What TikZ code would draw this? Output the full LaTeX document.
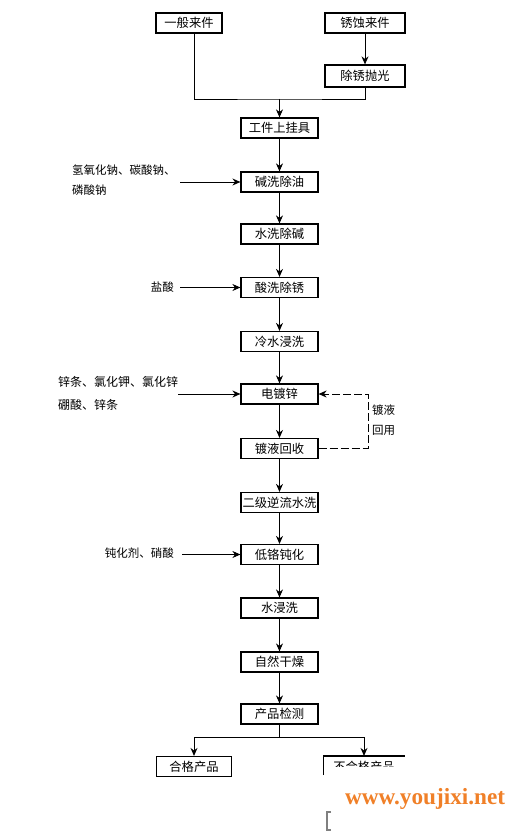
\documentclass[tikz,border=0pt]{standalone}
\usepackage{fontspec}
\newfontfamily\cjk{Noto Sans CJK SC}
\newfontfamily\wmfont{Liberation Serif}
\usetikzlibrary{arrows.meta}
\definecolor{wmorange}{RGB}{240,128,40}
\begin{document}
\begin{tikzpicture}[x=1pt,y=-1pt,
  box/.style={draw, line width=1.2pt, minimum width=77pt, minimum height=20pt, inner sep=0pt, font=\cjk\fontsize{12.3}{12}\selectfont},
  arr/.style={-{Stealth[length=8pt,width=7pt]}, line width=0.9pt},
  plain/.style={line width=0.9pt},
  lab/.style={font=\cjk\fontsize{11.5}{20}\selectfont, align=left, inner sep=0pt},
  dashline/.style={dash pattern=on 8pt off 3pt}]
\useasboundingbox (0,0) rectangle (525,837);
% top
\node[box, minimum width=66pt] (t1) at (189,23) {一般来件};
\node[box, minimum width=80pt] (t2) at (365,23) {锈蚀来件};
\node[box, minimum width=80pt, minimum height=22pt] (t3) at (365,76) {除锈抛光};
\coordinate (m) at (279.5,99);
\draw[arr] (t2) -- (t3);
\draw[plain] ([xshift=5pt]t1.south) |- (m) -| (t3.south);
% main column
\node[box] (b1) at (279.5,128) {工件上挂具};
\node[box] (b2) at (279.5,182) {碱洗除油};
\node[box] (b3) at (279.5,234) {水洗除碱};
\node[box] (b4) at (279.5,287.5) {酸洗除锈};
\node[box] (b5) at (279.5,341.5) {冷水浸洗};
\node[box] (b6) at (279.5,394) {电镀锌};
\node[box] (b7) at (279.5,448.5) {镀液回收};
\node[box] (b8) at (279.5,502.5) {二级逆流水洗};
\node[box] (b9) at (279.5,554.5) {低铬钝化};
\node[box] (b10) at (279.5,608) {水浸洗};
\node[box] (b11) at (279.5,662) {自然干燥};
\node[box] (b12) at (279.5,714) {产品检测};
\draw[arr] (m) -- (b1);
\foreach \a/\b in {b1/b2,b2/b3,b3/b4,b4/b5,b5/b6,b6/b7,b7/b8,b8/b9,b9/b10,b10/b11,b11/b12}
  \draw[arr] (\a) -- (\b);
% inputs
\node[lab, anchor=west] (l1) at (72,180) {氢氧化钠、碳酸钠、\\磷酸钠};
\node[lab, anchor=east] (l2) at (174,287.5) {盐酸};
\node[lab, anchor=west, font=\cjk\fontsize{12}{23}\selectfont] (l3) at (58,393.5) {锌条、氯化钾、氯化锌\\硼酸、锌条};
\node[lab, anchor=east] (l4) at (174,553.5) {钝化剂、硝酸};
\coordinate (i1) at (180,182);
\coordinate (i2) at (180,287.5);
\coordinate (i3) at (178,394);
\coordinate (i4) at (182,554.5);
\draw[arr] (i1) -- (b2.west);
\draw[arr] (i2) -- (b4.west);
\draw[arr] (i3) -- (b6.west);
\draw[arr] (i4) -- (b9.west);
% recycle
\coordinate (dr) at (368,420);
\draw[arr, dashline] (b7.east) -- (b7.east -| dr) -- (b6.east -| dr) -- (b6.east);
\node[lab, anchor=west, font=\cjk\fontsize{11.5}{20}\selectfont] (l5) at (372,420) {镀液\\回用};
% bottom
\coordinate (s) at (279.5,737);
\draw[plain] (b12) -- (s);
\node[box, minimum width=75pt] (ok) at (194,766.5) {合格产品};
\node[box, draw=none, minimum width=80pt] (nok) at (364,766.5) {不合格产品};
\draw[arr] (s) -| (ok.north);
\draw[arr] (s) -| (nok.north);
\fill[white] (329,767) rectangle (420,792);
\draw[line width=1.2pt] ([yshift=2pt]nok.south west) |- (nok.north east);
% fragment
\draw[gray, line width=1.5pt] (331,812) -- (327,812) -- (327,830) -- (331,830);
% watermark
\node[font=\wmfont\bfseries\fontsize{23.2}{23.2}\selectfont, text=wmorange, anchor=west, inner sep=0pt] (wm) at (345,799) {www.youjixi.net};
\end{tikzpicture}
\end{document}
